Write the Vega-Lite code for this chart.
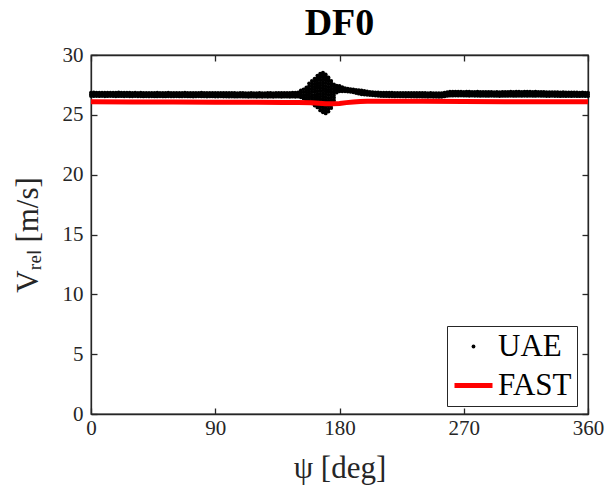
{
"$schema": "https://vega.github.io/schema/vega-lite/v6.json",
"autosize": {"type": "none"},
"width": 497, "height": 359,
"padding": {"left": 91, "top": 55, "right": 19, "bottom": 71},
"background": "white",
"title": {"text": "DF0", "font": "Liberation Serif", "fontSize": 38, "fontWeight": "bold", "color": "#000000", "anchor": "middle", "offset": 1},
"config": {
  "view": {"stroke": "#262626", "strokeWidth": 1.3},
  "axis": {"domainColor": "#262626", "domainWidth": 1.3, "tickColor": "#262626", "tickWidth": 1.3, "tickSize": -6, "grid": false,
           "labelFont": "Liberation Serif", "labelFontSize": 21, "labelColor": "#262626",
           "titleFont": "Liberation Serif", "titleFontSize": 31, "titleFontWeight": "normal", "titleColor": "#262626"},
  "legend": {"padding": 5, "labelOffset": 3, "labelFont": "Liberation Serif", "labelFontSize": 31, "labelColor": "#000000", "labelLimit": 0,
             "strokeColor": "#262626", "fillColor": "#ffffff", "cornerRadius": 0, "symbolOpacity": 1}
},
"layer": [
{
"data": {"values": [
{"p":0,"v":[26.57,26.71,26.86]},{"p":2,"v":[26.56,26.71,26.87]},{"p":4,"v":[26.57,26.72,26.86]},{"p":6,"v":[26.56,26.7,26.85]},{"p":8,"v":[26.57,26.71,26.86]},
{"p":10,"v":[26.55,26.7,26.86]},{"p":12,"v":[26.56,26.71,26.85]},{"p":14,"v":[26.57,26.71,26.86]},{"p":16,"v":[26.56,26.7,26.85]},{"p":18,"v":[26.55,26.7,26.86]},
{"p":20,"v":[26.56,26.71,26.87]},{"p":22,"v":[26.56,26.7,26.85]},{"p":24,"v":[26.55,26.7,26.85]},{"p":26,"v":[26.56,26.71,26.86]},{"p":28,"v":[26.55,26.7,26.85]},
{"p":30,"v":[26.55,26.69,26.84]},{"p":32,"v":[26.56,26.7,26.85]},{"p":34,"v":[26.55,26.7,26.84]},{"p":36,"v":[26.55,26.69,26.85]},{"p":38,"v":[26.54,26.69,26.84]},
{"p":40,"v":[26.55,26.69,26.84]},{"p":42,"v":[26.54,26.69,26.84]},{"p":44,"v":[26.55,26.69,26.83]},{"p":46,"v":[26.54,26.68,26.84]},{"p":48,"v":[26.54,26.69,26.85]},
{"p":50,"v":[26.55,26.69,26.84]},{"p":52,"v":[26.54,26.69,26.83]},{"p":54,"v":[26.54,26.68,26.84]},{"p":56,"v":[26.55,26.7,26.85]},{"p":58,"v":[26.54,26.69,26.84]},
{"p":60,"v":[26.54,26.69,26.84]},{"p":62,"v":[26.55,26.69,26.83]},{"p":64,"v":[26.54,26.68,26.83]},{"p":66,"v":[26.54,26.69,26.84]},{"p":68,"v":[26.55,26.7,26.85]},
{"p":70,"v":[26.54,26.69,26.84]},{"p":72,"v":[26.54,26.68,26.83]},{"p":74,"v":[26.53,26.68,26.84]},{"p":76,"v":[26.54,26.69,26.84]},{"p":78,"v":[26.55,26.69,26.84]},
{"p":80,"v":[26.54,26.69,26.85]},{"p":82,"v":[26.54,26.68,26.83]},{"p":84,"v":[26.53,26.68,26.83]},{"p":86,"v":[26.54,26.69,26.84]},{"p":88,"v":[26.54,26.68,26.83]},
{"p":90,"v":[26.53,26.68,26.83]},{"p":92,"v":[26.53,26.68,26.84]},{"p":94,"v":[26.54,26.68,26.83]},{"p":96,"v":[26.53,26.67,26.82]},{"p":98,"v":[26.53,26.68,26.83]},
{"p":100,"v":[26.52,26.67,26.82]},{"p":102,"v":[26.53,26.67,26.82]},{"p":104,"v":[26.52,26.67,26.82]},{"p":106,"v":[26.52,26.66,26.81]},{"p":108,"v":[26.53,26.67,26.82]},
{"p":110,"v":[26.52,26.67,26.83]},{"p":112,"v":[26.52,26.66,26.81]},{"p":114,"v":[26.51,26.66,26.81]},{"p":116,"v":[26.52,26.67,26.82]},{"p":118,"v":[26.52,26.66,26.81]},
{"p":120,"v":[26.51,26.66,26.81]},{"p":122,"v":[26.52,26.67,26.82]},{"p":124,"v":[26.51,26.66,26.81]},{"p":126,"v":[26.52,26.66,26.81]},{"p":128,"v":[26.51,26.66,26.82]},
{"p":130,"v":[26.52,26.67,26.82]},{"p":132,"v":[26.51,26.66,26.81]},{"p":134,"v":[26.52,26.67,26.82]},{"p":136,"v":[26.52,26.67,26.83]},{"p":138,"v":[26.51,26.66,26.82]},
{"p":140,"v":[26.52,26.67,26.83]},{"p":142,"v":[26.52,26.68,26.84]},{"p":144,"v":[26.51,26.67,26.84]},{"p":146,"v":[26.52,26.68,26.85]},{"p":148,"v":[26.51,26.68,26.86]},
{"p":150,"v":[26.52,26.7,26.88]},
{"p":152,"v":[26.47,26.66,26.85,27.03]},
{"p":154,"v":[26.37,26.62,26.88,27.13]},
{"p":156,"v":[26.22,26.44,26.66,26.88,27.1,27.28]},
{"p":158,"v":[26.12,26.34,26.56,26.78,27.0,27.2,27.42,27.63]},
{"p":160,"v":[25.97,26.2,26.43,26.66,26.9,27.13,27.37,27.6,27.83]},
{"p":162,"v":[25.77,26.0,26.22,26.45,26.67,26.9,27.12,27.35,27.57,27.8,28.03]},
{"p":164,"v":[25.62,25.85,26.08,26.31,26.54,26.77,27.0,27.23,27.46,27.69,27.92,28.1,28.28]},
{"p":166,"v":[25.37,25.6,25.83,26.06,26.29,26.52,26.75,26.98,27.21,27.44,27.67,27.9,28.13,28.3,28.43]},
{"p":168,"v":[25.22,25.45,25.68,25.91,26.14,26.37,26.6,26.83,27.06,27.29,27.52,27.75,27.98,28.2,28.4,28.53]},
{"p":170,"v":[25.12,25.35,25.58,25.81,26.04,26.27,26.5,26.73,26.96,27.19,27.42,27.65,27.88,28.1,28.25,28.38]},
{"p":172,"v":[25.27,25.5,25.73,25.96,26.19,26.42,26.65,26.88,27.11,27.34,27.57,27.8,28.0,28.13]},
{"p":174,"v":[25.57,25.8,26.03,26.26,26.49,26.72,26.95,27.18,27.41,27.62,27.83]},
{"p":176,"v":[25.97,26.2,26.43,26.66,26.89,27.12,27.33,27.53]},
{"p":178,"v":[26.87,27.06,27.25,27.43]},
{"p":180,"v":[26.97,27.2,27.41]},{"p":182,"v":[26.97,27.15,27.32]},{"p":184,"v":[26.97,27.1,27.23]},{"p":186,"v":[26.94,27.07,27.19]},{"p":188,"v":[26.92,27.04,27.15]},
{"p":190,"v":[26.88,27.0,27.12]},{"p":192,"v":[26.82,26.95,27.08]},{"p":194,"v":[26.77,26.91,27.05]},{"p":196,"v":[26.72,26.88,27.03]},{"p":198,"v":[26.7,26.84,26.99]},
{"p":200,"v":[26.67,26.81,26.95]},{"p":202,"v":[26.65,26.79,26.92]},{"p":204,"v":[26.63,26.77,26.9]},{"p":206,"v":[26.61,26.75,26.88]},{"p":208,"v":[26.59,26.73,26.87]},
{"p":210,"v":[26.57,26.71,26.86]},{"p":212,"v":[26.56,26.71,26.85]},{"p":214,"v":[26.56,26.7,26.85]},{"p":216,"v":[26.55,26.7,26.86]},{"p":218,"v":[26.55,26.7,26.85]},
{"p":220,"v":[26.54,26.69,26.84]},{"p":222,"v":[26.55,26.7,26.84]},{"p":224,"v":[26.54,26.69,26.84]},{"p":226,"v":[26.54,26.68,26.83]},{"p":228,"v":[26.53,26.68,26.84]},
{"p":230,"v":[26.54,26.69,26.84]},{"p":232,"v":[26.53,26.68,26.83]},{"p":234,"v":[26.53,26.68,26.83]},{"p":236,"v":[26.52,26.67,26.82]},{"p":238,"v":[26.53,26.68,26.83]},
{"p":240,"v":[26.52,26.67,26.82]},{"p":242,"v":[26.52,26.67,26.82]},{"p":244,"v":[26.51,26.66,26.81]},{"p":246,"v":[26.52,26.67,26.82]},{"p":248,"v":[26.51,26.66,26.81]},
{"p":250,"v":[26.51,26.66,26.81]},{"p":252,"v":[26.5,26.65,26.8]},{"p":254,"v":[26.51,26.66,26.81]},{"p":256,"v":[26.54,26.7,26.86]},{"p":258,"v":[26.58,26.74,26.9]},
{"p":260,"v":[26.6,26.76,26.93]},{"p":262,"v":[26.6,26.76,26.93]},{"p":264,"v":[26.61,26.77,26.93]},{"p":266,"v":[26.6,26.77,26.94]},{"p":268,"v":[26.61,26.77,26.93]},
{"p":270,"v":[26.6,26.76,26.92]},{"p":272,"v":[26.6,26.77,26.94]},{"p":274,"v":[26.59,26.76,26.93]},{"p":276,"v":[26.6,26.76,26.92]},{"p":278,"v":[26.59,26.75,26.92]},
{"p":280,"v":[26.59,26.76,26.93]},{"p":282,"v":[26.58,26.75,26.92]},{"p":284,"v":[26.59,26.75,26.91]},{"p":286,"v":[26.58,26.75,26.92]},{"p":288,"v":[26.58,26.74,26.91]},
{"p":290,"v":[26.59,26.75,26.92]},{"p":292,"v":[26.58,26.74,26.9]},{"p":294,"v":[26.58,26.74,26.91]},{"p":296,"v":[26.57,26.74,26.9]},{"p":298,"v":[26.58,26.74,26.91]},
{"p":300,"v":[26.58,26.75,26.92]},{"p":302,"v":[26.58,26.75,26.92]},{"p":304,"v":[26.59,26.76,26.93]},{"p":306,"v":[26.58,26.75,26.92]},{"p":308,"v":[26.58,26.75,26.93]},
{"p":310,"v":[26.59,26.76,26.93]},{"p":312,"v":[26.58,26.75,26.92]},{"p":314,"v":[26.59,26.76,26.94]},{"p":316,"v":[26.58,26.76,26.93]},{"p":318,"v":[26.59,26.76,26.93]},
{"p":320,"v":[26.58,26.75,26.92]},{"p":322,"v":[26.58,26.75,26.93]},{"p":324,"v":[26.59,26.76,26.92]},{"p":326,"v":[26.58,26.75,26.92]},{"p":328,"v":[26.58,26.74,26.91]},
{"p":330,"v":[26.57,26.74,26.9]},{"p":332,"v":[26.57,26.73,26.9]},{"p":334,"v":[26.58,26.74,26.9]},{"p":336,"v":[26.57,26.73,26.89]},{"p":338,"v":[26.57,26.73,26.89]},
{"p":340,"v":[26.56,26.72,26.88]},{"p":342,"v":[26.57,26.73,26.89]},{"p":344,"v":[26.56,26.72,26.88]},{"p":346,"v":[26.57,26.72,26.87]},{"p":348,"v":[26.56,26.72,26.88]},
{"p":350,"v":[26.57,26.72,26.87]},{"p":352,"v":[26.56,26.71,26.87]},{"p":354,"v":[26.56,26.71,26.86]},{"p":356,"v":[26.57,26.72,26.87]},{"p":358,"v":[26.56,26.71,26.86]},
{"p":360,"v":[26.56,26.71,26.86]}
]},
"transform": [{"flatten": ["v"]}],
"mark": {"type": "point", "filled": true, "opacity": 1},
"encoding": {
  "x": {"field": "p", "type": "quantitative", "scale": {"domain": [0, 360], "nice": false, "zero": false},
        "axis": {"values": [0, 90, 180, 270, 360], "labelPadding": 9, "labelFlush": false, "title": "ψ [deg]", "titleX": 248.5, "titleY": 63, "titleBaseline": "alphabetic", "titleAlign": "center", "titleAnchor": null}},
  "y": {"field": "v", "type": "quantitative", "scale": {"domain": [0, 30], "nice": false},
        "axis": {"values": [0, 5, 10, 15, 20, 25, 30], "labelPadding": 14, "labelFlush": false, "title": "Vᵣₑₗ [m/s]", "titleX": -54, "titleY": 179.5, "titleAngle": -90, "titleBaseline": "alphabetic", "titleAlign": "center", "titleAnchor": null}},
  "color": {"datum": "UAE", "type": "nominal", "scale": {"domain": ["UAE", "FAST"], "range": ["#000000", "#ff0000"]},
    "legend": {"title": null, "orient": "none", "legendX": 356, "legendY": 271}},
  "shape": {"datum": "UAE", "type": "nominal", "scale": {"domain": ["UAE", "FAST"], "range": ["circle", "stroke"]}, "legend": {"title": null}},
  "size": {"datum": "UAE", "type": "ordinal", "scale": {"type": "point", "domain": ["UAE", "FAST"], "range": [15, 1444], "padding": 0}, "legend": {"title": null}},
  "strokeWidth": {"datum": "UAE", "type": "ordinal", "scale": {"type": "point", "domain": ["UAE", "FAST"], "range": [0, 5], "padding": 0}, "legend": {"title": null}}
}
},
{
"data": {"values": [
{"p":0,"v":26.1},{"p":30,"v":26.08},{"p":60,"v":26.07},{"p":90,"v":26.06},{"p":120,"v":26.05},{"p":140,"v":26.04},{"p":150,"v":26.03},
{"p":160,"v":26.0},{"p":165,"v":25.96},{"p":170,"v":25.93},{"p":175,"v":25.92},{"p":180,"v":25.95},{"p":185,"v":26.02},{"p":190,"v":26.08},
{"p":195,"v":26.12},{"p":200,"v":26.14},{"p":210,"v":26.14},{"p":240,"v":26.13},{"p":270,"v":26.12},{"p":300,"v":26.1},{"p":330,"v":26.1},{"p":360,"v":26.1}
]},
"mark": {"type": "line", "strokeWidth": 5},
"encoding": {
  "x": {"field": "p", "type": "quantitative", "axis": {"orient": "top", "labels": false, "title": null, "values": [0, 90, 180, 270, 360]}},
  "y": {"field": "v", "type": "quantitative", "axis": {"orient": "right", "labels": false, "title": null, "values": [0, 5, 10, 15, 20, 25, 30]}},
  "color": {"datum": "FAST", "type": "nominal", "legend": {"title": null, "orient": "none", "legendX": 356, "legendY": 271}}
}
}
],
"resolve": {"axis": {"x": "independent", "y": "independent"}}
}
